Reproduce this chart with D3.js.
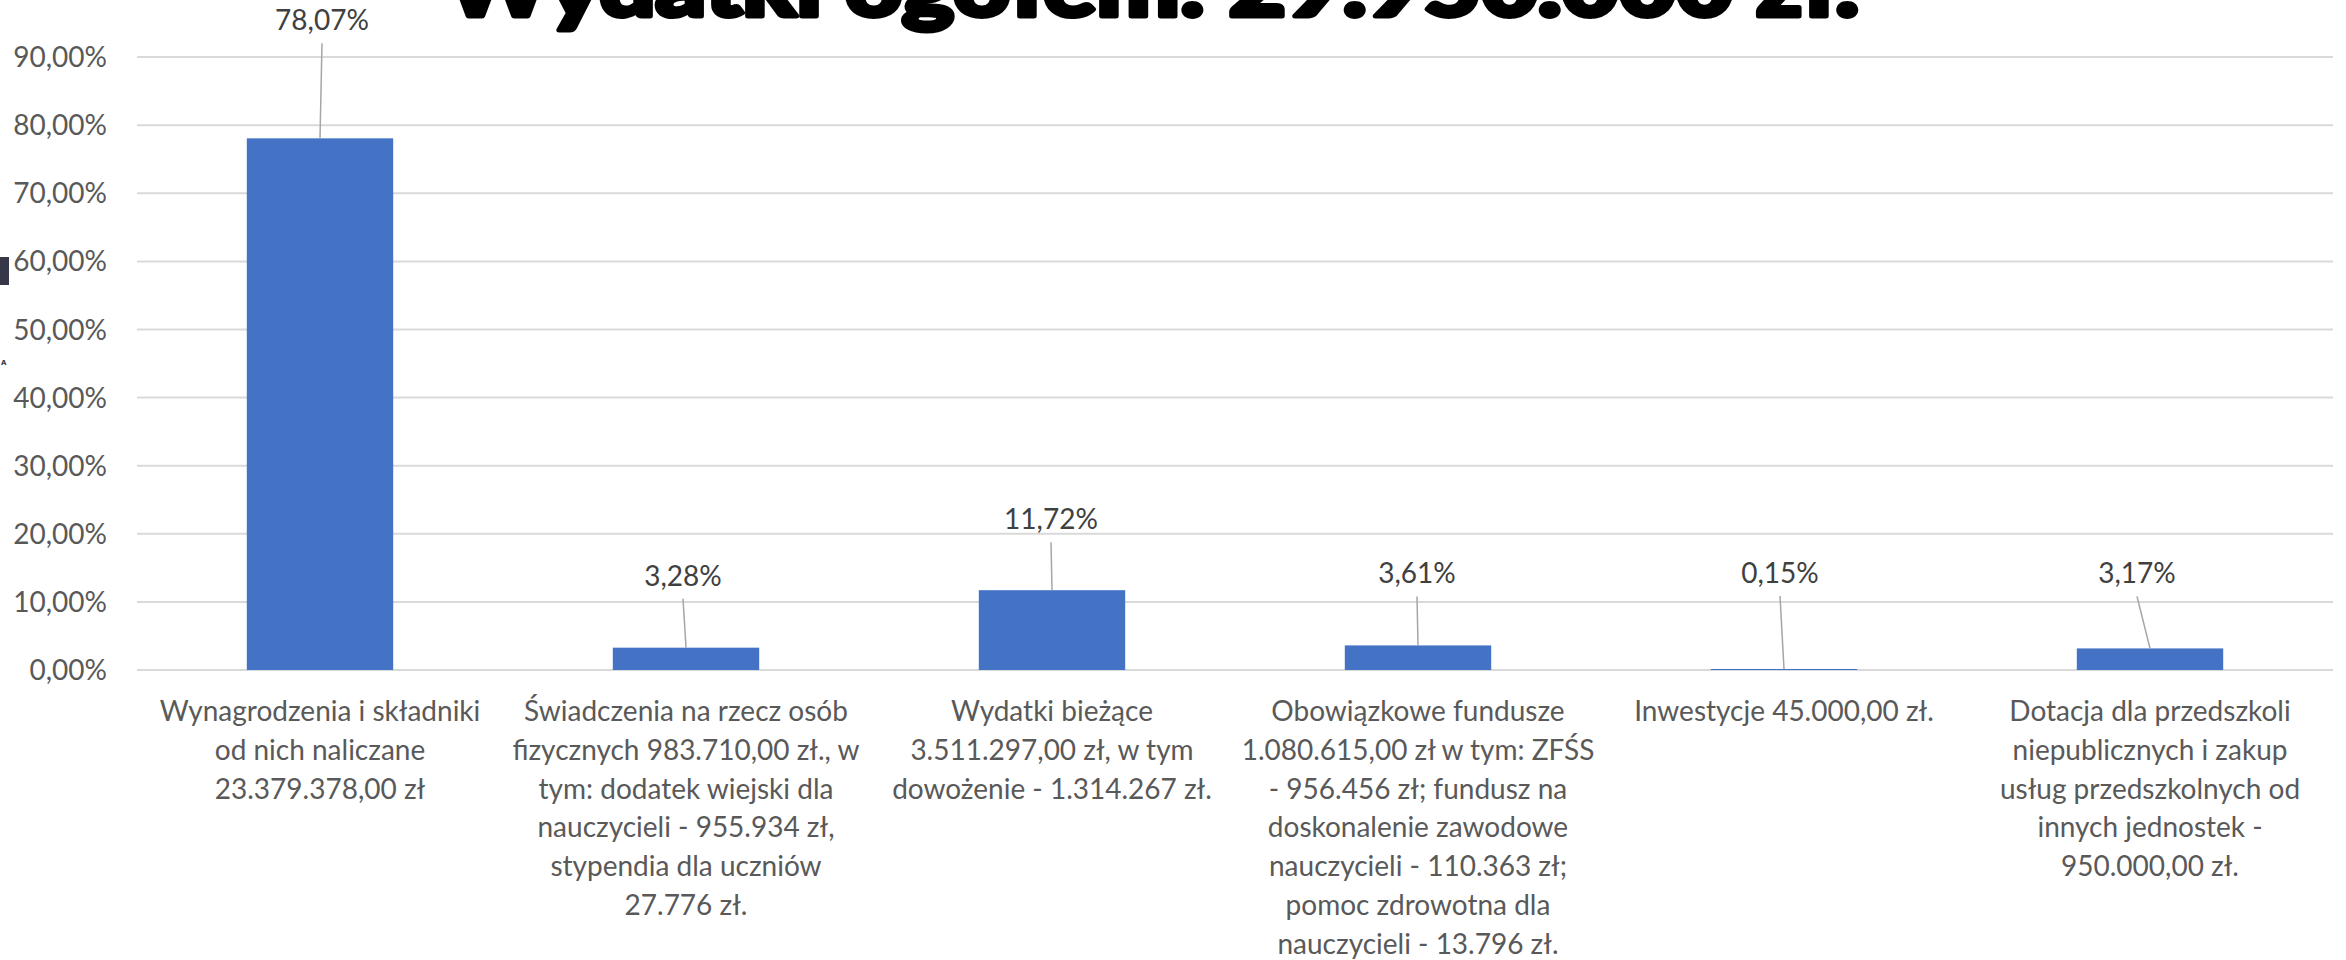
<!DOCTYPE html>
<html>
<head>
<meta charset="utf-8">
<script src="https://cdn.jsdelivr.net/npm/d3@7"></script>
<style>
  html, body { margin: 0; padding: 0; background: #fff; overflow: hidden; }
  svg { display: block; }
</style>
</head>
<body>
<svg id="chart" width="2346" height="960"></svg>
<script>
// ---- data ----
const titleText = "Wydatki ogółem: 29.950.000 zł.";
const categories = [
  "Wynagrodzenia i składniki\nod nich naliczane\n23.379.378,00 zł",
  "Świadczenia na rzecz osób\nfizycznych 983.710,00 zł., w\ntym: dodatek wiejski dla\nnauczycieli - 955.934 zł,\nstypendia dla uczniów\n27.776 zł.",
  "Wydatki bieżące\n3.511.297,00 zł, w tym\ndowożenie - 1.314.267 zł.",
  "Obowiązkowe fundusze\n1.080.615,00 zł w tym: ZFŚS\n- 956.456 zł; fundusz na\ndoskonalenie zawodowe\nnauczycieli - 110.363 zł;\npomoc zdrowotna dla\nnauczycieli - 13.796 zł.",
  "Inwestycje 45.000,00 zł.",
  "Dotacja dla przedszkoli\nniepublicznych i zakup\nusług przedszkolnych od\ninnych jednostek -\n950.000,00 zł."
];
const values = [78.07, 3.28, 11.72, 3.61, 0.15, 3.17];
const valueLabels = ["78,07%", "3,28%", "11,72%", "3,61%", "0,15%", "3,17%"];
const yTicks = [0, 10, 20, 30, 40, 50, 60, 70, 80, 90];
const yTickLabels = ["0,00%", "10,00%", "20,00%", "30,00%", "40,00%", "50,00%", "60,00%", "70,00%", "80,00%", "90,00%"];

// layout of the dragged data labels (px relative to bar top / bar centre)
const labelLift = [108, 62, 61, 62, 86, 65];
const labelShift = [2, -3, -1, -1, -4, -13];

// ---- drawing ----
const svg = d3.select("#chart");
const font = "Lato, 'Open Sans', sans-serif";

const x = d3.scaleBand()
  .domain(d3.range(categories.length))
  .range([137, 2333])
  .paddingInner(0.6)
  .paddingOuter(0.3);

const y = d3.scaleLinear().domain([0, 90]).range([670, 57.1]);

// artifacts on the left edge
svg.append("rect").attr("x", 0).attr("y", 257).attr("width", 9).attr("height", 28).attr("fill", "#363748");
svg.append("text").attr("x", 1).attr("y", 365).attr("font-size", 7).attr("font-weight", 700)
  .attr("font-family", "DejaVu Sans, sans-serif").attr("fill", "#333344").text("A");

// gridlines
const grid = svg.append("g");
grid.selectAll("line").data(yTicks).join("line")
  .attr("x1", 137).attr("x2", 2333)
  .attr("y1", d => y(d)).attr("y2", d => y(d))
  .attr("stroke", "#d9d9d9").attr("stroke-width", 2);

// y tick labels
svg.append("g").selectAll("text").data(yTicks).join("text")
  .attr("x", 107).attr("y", d => y(d)).attr("dy", "0.36em")
  .attr("text-anchor", "end")
  .attr("font-family", font).attr("font-size", 28).attr("fill", "#595959")
  .text((d, i) => yTickLabels[i]);

// bars
svg.append("g").selectAll("rect").data(values).join("rect")
  .attr("x", (d, i) => x(i))
  .attr("width", x.bandwidth())
  .attr("y", d => y(d))
  .attr("height", d => y(0) - y(d))
  .attr("fill", "#4472c4");

// leader lines + data labels
const lab = svg.append("g");
values.forEach((v, i) => {
  const cx = x(i) + x.bandwidth() / 2;
  const top = y(v);
  const lx = cx + labelShift[i];
  const ly = top - labelLift[i];
  lab.append("line")
    .attr("x1", lx).attr("y1", ly + 13)
    .attr("x2", cx).attr("y2", top)
    .attr("stroke", "#a6a6a6").attr("stroke-width", 1.5);
  lab.append("text")
    .attr("x", lx).attr("y", ly)
    .attr("text-anchor", "middle")
    .attr("font-family", font).attr("font-size", 28).attr("fill", "#404040")
    .text(valueLabels[i]);
});

// category labels
const cat = svg.append("g");
categories.forEach((c, i) => {
  const cx = x(i) + x.bandwidth() / 2;
  const t = cat.append("text")
    .attr("text-anchor", "middle")
    .attr("font-family", font).attr("font-size", 28).attr("fill", "#595959");
  c.split("\n").forEach((line, k) => {
    t.append("tspan").attr("x", cx).attr("y", 721 + k * 38.8).text(line);
  });
});

// title (cut off at the top, as in the reference)
svg.append("text")
  .attr("x", 446).attr("y", 16)
  .attr("font-family", "Lato, 'DejaVu Sans', sans-serif")
  .attr("font-weight", 900).attr("font-size", 82)
  .attr("fill", "#000").attr("stroke", "#000").attr("stroke-width", 5)
  .attr("stroke-linejoin", "round")
  .attr("textLength", 1413).attr("lengthAdjust", "spacingAndGlyphs")
  .text(titleText);
</script>
</body>
</html>
